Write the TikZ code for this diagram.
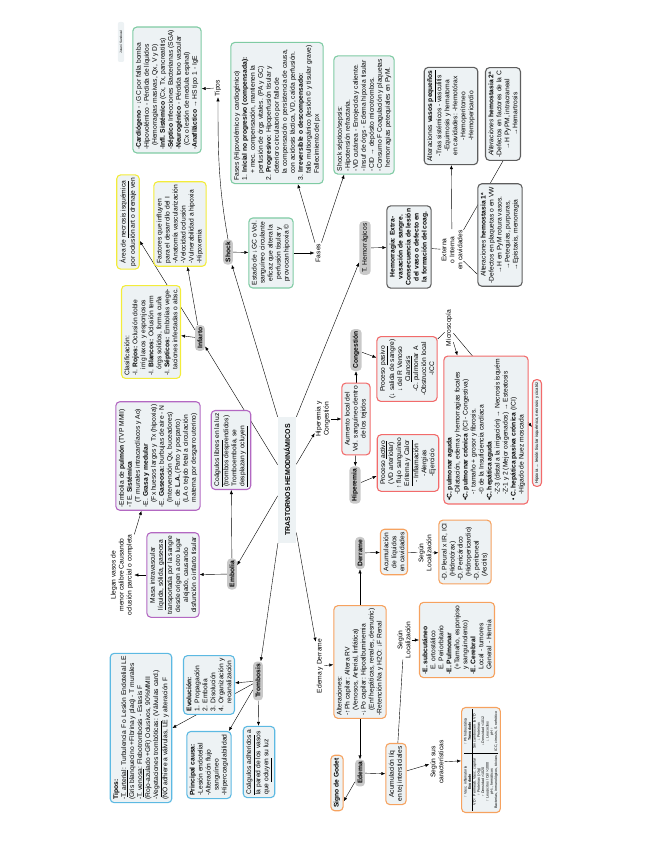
\documentclass[tikz,border=0pt]{standalone}
\usepackage{fontspec}
\setmainfont{Liberation Sans}
\usetikzlibrary{arrows.meta,backgrounds}

\definecolor{fondo}{HTML}{EDF2F4}
\definecolor{gris}{HTML}{C9C9C9}
\definecolor{verde}{HTML}{7FCBA3}
\definecolor{amarillo}{HTML}{F3EC3A}
\definecolor{morado}{HTML}{B368C2}
\definecolor{azul}{HTML}{5CB9E2}
\definecolor{naranja}{HTML}{F6A25F}
\definecolor{rojo}{HTML}{F26B6B}
\definecolor{oscuro}{HTML}{5E5E5E}

\tikzset{
  >={Latex[length=4pt,width=3.2pt]},
  letra/.style={font=\fontsize{6.7}{8}\selectfont},
  ramal/.style={rotate=90, fill=gris, rounded corners=4pt, inner sep=2.5pt, font=\bfseries\fontsize{6.7}{8}\selectfont},
  caja/.style={rotate=90, draw=#1, fill=fondo, line width=1.1pt, rounded corners=4pt, inner sep=3pt, align=left, letra},
  rotulo/.style={rotate=90, inner sep=1pt, align=center, letra},
}

\begin{document}
\begin{tikzpicture}[x=1pt, y=-1pt]
\useasboundingbox (0,0) rectangle (655,848);

\node[rotate=90, fill=fondo, inner xsep=7pt, inner ysep=6pt, font=\bfseries\fontsize{7}{8}\selectfont] (centro) at (287,480) {TRASTORNOS HEMODINÁMICOS};
\node[rotate=90, fill=fondo, rounded corners=2pt, inner sep=2pt, minimum width=40pt, font=\fontsize{3.2}{4}\selectfont] (autor) at (121,42) {Jurani Sandoval};

% ramas principales
\node[ramal] (shock) at (228,252) {Shock};
\node[ramal] (infarto) at (200,338) {Infarto};
\node[ramal] (embolia) at (232,574) {Embolia};
\node[ramal] (trombosis) at (258,681) {Trombosis};
\node[ramal] (edema) at (360,773) {Edema};
\node[ramal] (derrame) at (360,553) {Derrame};
\node[ramal] (hiperemia) at (355,485) {Hiperemia};
\node[ramal] (congestion) at (356,350) {Congestión};
\node[ramal, font=\fontsize{6.7}{8}\selectfont] (themo) at (365,248) {T. Hemorrágicos};

% rotulos
\node[rotulo] (lTipos) at (218,88) {Tipos};
\node[rotulo] (lFases) at (318,253) {Fases};
\node[rotulo] (lHipCong) at (323,419) {Hiperemia y\\Congestión};
\node[rotulo] (lEdDer) at (320,666) {Edema y Derrame};
\node[rotulo] (lLocDer) at (425,553) {Según\\Localización};
\node[rotulo] (lLocEd) at (404,640) {Según\\Localización};
\node[rotulo] (lCaract) at (437,762) {Según sus\\características};
\node[rotulo] (lExterna) at (452,250) {Externa\\o Interna\\en cavidades};
\node[rotulo] (lMicro) at (449,328) {Microscopía};
\node[rotulo] (lLlegan) at (122,575) {Llegan vasos de\\menor calibre Causando\\oclusión parcial o completa};

% shock
\node[caja=verde] (tiposShock) at (167,90) {-\textbf{Cardiógeno} - ↓GC por falla bomba\\-Hipovolémico - Pérdida de líquidos\\\hspace*{4pt}(Hemorragias masivas, Qx, V y D)\\-\textbf{Infl. Sistémico} (Cx, Tx, pancreatitis)\\-\textbf{Séptico} Infecciones Bacterianas (SGA)\\-\textbf{Neurogénico} - Pérdida tono vascular\\\hspace*{4pt}(Cx o lesión de medula espinal)\\-\textbf{Anafiláctico} → HS tipo 1 - IgE};
\node[caja=verde] (fasesShock) at (277,113) {Fases (Hipovolémico y cardiogénico)\\1. \textbf{Inicial no progresivo (compensada):}\\\hspace*{7pt}+ mec. compensación, mantienen la\\\hspace*{7pt}perfusión de órgs vitales. (PA y GC)\\2. \textbf{Progresivo:} Hipoperfusión tisular y\\\hspace*{7pt}deterioro circulatorio por fallo de\\\hspace*{7pt}la compensación o persistencia de causa,\\\hspace*{7pt}con acidosis láctica, VD, caída perfusión.\\3. \textbf{Irreversible o descompensado:}\\\hspace*{7pt}fallo multiorgánico (lesión © y tisular grave)\\\hspace*{7pt}Fallecimiento del px};
\node[caja=verde] (septico) at (364,115) {Shock séptico/sepsis:\\-Hipotensión refractaria.\\-VD cutánea - Enrojecida y caliente.\\-Insuf de órgs - Edema hipoxia tisular\\-CID → depósito microtrombos.\\-Consumo F Coagulación y plaquetas\\\hspace*{4pt}hemorragias petequiales en PyM.};
\node[caja=verde, align=center] (defShock) at (271,253) {Estado de ↓GC o Vol.\\sanguíneo circulante\\eficaz que altera la\\perfusión tisular y\\provocan hipoxia ©};

% infarto
\node[caja=amarillo, align=center] (necrosis) at (128,222) {Área de \underline{necrosis isquémica}\\por oclusión art o drenaje ven};
\node[caja=amarillo] (factores) at (180,224) {Factores que influyen\\para el desarrollo del I\\-Anatomía vascularización\\-Velocidad oclusión\\-Vulnerabilidad a hipoxia\\-Hipoxemia};
\node[caja=amarillo] (clasif) at (151,332) {Clasificación:\\-I. \textbf{Rojos:} Oclusión doble\\\hspace*{6pt}irrig laxos y esponjosos\\-I. \textbf{Blancos:} Oclusión term\\\hspace*{6pt}órgs solidos, forma cuña\\-I. \textbf{Sépticos:} Embolias vege-\\\hspace*{6pt}taciones infectadas o absc.};

% embolia
\node[caja=morado] (tiposEmb) at (158,456) {-Embolia de \textbf{pulmón} (TVP MMII)\\-TE. \textbf{Sistémica}\\\hspace*{5pt}(T murales intracardíacos y Ao)\\-E. \textbf{Grasa y medular}\\\hspace*{5pt}(Fx huesos largos y Tx (hipoxia))\\-E. \textbf{Gaseosa:} burbujas de aire - N\\\hspace*{5pt}(Intervención Qx, buceadores)\\-E. de \textbf{L.A.} (Parto y posparto)\\\hspace*{5pt}(LA o tejido fetal a circulación\\\hspace*{5pt}materna por desgarro uterino)};
\node[caja=morado] (coagLibres) at (231,450) {\underline{Coágulos libres} en la luz\\(trombos desprendidos)\\Tromboembolia, se\\\underline{desplazan y ocluyen}};
\node[caja=morado, align=center] (masa) at (173,575) {Masa intravascular\\\underline{líquida, sólida, gaseosa}\\transportada por la sangre\\desde origen a otro lugar\\alejado, causando\\disfunción o infarto tisular};

% trombosis
\node[caja=azul] (tiposTromb) at (141,728) {\textbf{Tipos:}\\-\underline{T. arterial}: Turbulencia F o Lesión Endotelial LE\\(Gris blanquecino +Fibrina y plaq) - T murales\\-\underline{T. venosa}: Flebotrombosis - Estasis F\\(Rojo-azulado +GR) Oclusivos, 90\%MMII\\-\underline{Vegetaciones trombóticas}: (Válvulas card.)\\(NO adhiere a válvulas, LE y alteración F};
\node[caja=azul] (evolucion) at (209,685) {\textbf{Evolución:}\\1. Propagación\\2. Embolia\\3. Disolución\\4. Organización y\\\hspace*{8pt}recanalización};
\node[caja=azul] (causa) at (209,765) {\textbf{Principal causa:}\\-Lesión endotelial\\-Alteración flujo\\\hspace*{5pt}sanguíneo\\-Hipercoagulabilidad};
\node[caja=azul] (coagAdh) at (259,762) {\underline{Coágulos adheridos} a\\la pared de los vasos\\que \underline{ocluyen} su luz};

% edema y derrame
\node[caja=naranja] (alteraciones) at (360,662) {Alteraciones:\\-↑Ph capilar: Altera RV\\\hspace*{5pt}(Venosos, Arterial, linfática)\\-↓Po capilar: Hipoalbuminemia\\\hspace*{5pt}(Enf hepáticas, renales, desnutric)\\-Retención Na y H2O: ↓F Renal};
\node[caja=naranja, align=center] (acumCav) at (394,552) {Acumulación\\de líquidos\\en cavidades};
\node[caja=naranja] (pleural) at (465,552) {-D. Pleural x IR, ICI\\\hspace*{4pt}(Hidrotórax)\\-D. Pericárdico\\\hspace*{4pt}(Hidropericardio)\\-D. peritoneal\\\hspace*{4pt}(Ascitis)};
\node[caja=naranja] (subcut) at (457,640) {-\textbf{E. subcutáneo}\\\hspace*{5pt}E. ortostático\\\hspace*{5pt}E. Periorbitario\\-\textbf{E. Pulmonar}\\\hspace*{5pt}(+Tamaño, esponjoso\\\hspace*{5pt}y sanguinolento)\\-\textbf{E. Cerebral}\\\hspace*{5pt}Local - tumores\\\hspace*{5pt}General - Hernia};
\node[caja=naranja, align=center] (acumInt) at (396,774) {Acumulación líq\\en tej intersticiales};
\node[caja=naranja, font=\bfseries\fontsize{6.7}{8}\selectfont] (godet) at (337,783) {Signo de Godet};
\node[caja=naranja, inner sep=2pt, font=\fontsize{3.6}{4.3}\selectfont] (tabla) at (481,760) {\setlength{\tabcolsep}{2pt}\begin{tabular}{c|c}
↑ Vasc. inflamatoria & ↑ Ph hidrostática\\
\textbf{Exudado} & \textbf{Trasudado}\\\hline
VD ↑ Permeab. Vasc. capilar & Sin cambios en la VD\\
↑ Proteínas (>3g) & ↓ Proteínas\\
↑ Densidad >1020 & ↓ Densidad <1012\\
↑ Leucocitos / Cél >1000 & ↓ Leucocitos\\
pH ↓, hemáticos & pH ↑\\
Bacterias, inmunológicos, tóxicos & ICC, cirrosis, S. nefrótico
\end{tabular}};

% hiperemia y congestion
\node[caja=rojo, align=center] (aumento) at (356,419) {Aumento local del\\Vol. sanguíneo dentro\\de los tejidos};
\node[caja=rojo, align=center] (activo) at (408,463) {Proceso \underline{activo}\\(VD arteriolar)\\↑ flujo sanguíneo\\\underline{Eritema y Calor}\\- Inflamación\\-Alergias\\-Ejercicio};
\node[caja=rojo, align=center] (pasivo) at (407,369) {Proceso \underline{pasivo}\\(↓ salida de sangre)\\↓ del R Venoso\\\underline{Cianosis}\\-C. pulmonar A\\-Obstrucción local\\-ICC};
\node[caja=rojo] (congTipos) at (486,430) {•\textbf{C. pulmonar aguda}\\\hspace*{6pt}-Dilatación, edema y hemorragias focales\\•\textbf{C. pulmonar crónica} (ICI - Congestiva)\\\hspace*{6pt}-↑ tamaño + grosor y fibrosis.\\\hspace*{6pt}-© de la Insuficiencia cardíaca\\•\textbf{C. hepática aguda}\\\hspace*{6pt}-Z-3 (distal a la irrigación) → Necrosis isquém\\\hspace*{6pt}-Z-1 y 2 (Mejor oxigenados) → Esteatosis\\• \textbf{C. hepática pasiva crónica} (ICI)\\\hspace*{6pt}-Hígado de Nuez moscada};
\node[caja=rojo, inner sep=2.5pt, font=\fontsize{4.3}{5}\selectfont] (hipoxia) at (537,433) {Hipoxia → lesión tisular isquémica, necrosis y cicatriz};

% hemorragicos
\node[caja=oscuro, align=center, font=\bfseries\fontsize{6.7}{8}\selectfont] (hemorragia) at (409,247) {Hemorragia: Extra-\\vasación de sangre.\\Consecuencia de lesión\\del vaso o defecto en\\la formación del coag.};
\node[caja=oscuro, align=center] (vasos) at (451,116) {Alteraciones \textbf{vasos \underline{pequeños}}\\-Tras sistémicos - vasculitis\\-Equimosis y hematoma\\en cavidades: -Hemotórax\\-Hemoperitoneo\\-Hemopericardio};
\node[caja=oscuro, align=center] (hemo2) at (503,114) {\textit{Alteraciones} \textbf{hemostasia 2ª}\\-Defectos en factores de la C\\→H PyPM, intracraneal\\→Hemartrosis};
\node[caja=oscuro, align=center] (hemo1) at (500,235) {Alteraciones \textbf{hemostasia 1ª}\\-Defectos en plaquetas o en VW\\→H en PyM rotura vasos.\\→Petequias, purpuras,\\→Epistaxis, menorragia};

\begin{scope}[on background layer, line width=0.5pt]
% desde el centro
\draw[->] (centro.north east) -- (shock);
\draw[->] (centro) -- (infarto);
\draw[->] (centro) -- (embolia);
\draw[->] (centro) -- (trombosis);
\draw[->] (centro) -- (lEdDer);
\draw[->] (centro) -- (lHipCong);
\draw[->] (centro.south east) -- (themo);
% shock
\draw[->] (shock) -- (defShock);
\draw[->] (defShock) -- (lFases);
\draw[->] (lFases) -- (fasesShock);
\draw[->] (lFases) -- (septico);
\draw[->] (shock.east) to[out=100,in=-90] (lTipos.west);
\draw[->] (lTipos) -- (tiposShock);
% infarto
\draw[->] (infarto) -- (necrosis);
\draw[->] (infarto) -- (factores);
\draw[->] (infarto) -- (clasif);
% embolia
\draw[->] (embolia) -- (coagLibres);
\draw[->] (embolia) -- (masa);
\draw[->] (masa) -- (lLlegan);
\draw[->] (lLlegan) -- (tiposEmb);
% trombosis
\draw[->] (trombosis) -- (evolucion);
\draw[->] (trombosis) -- (tiposTromb.south);
\draw[->] (trombosis) -- (causa);
\draw[->] (trombosis) -- (coagAdh);
% edema y derrame
\draw[->] (lEdDer) -- (alteraciones);
\draw[->] (alteraciones) -- (derrame);
\draw[->] (alteraciones) -- (edema);
\draw[->] (derrame) -- (acumCav);
\draw (acumCav) -- (lLocDer);
\draw[->] (lLocDer) -- (pleural);
\draw[->] (edema) -- (acumInt);
\draw[->] (edema) -- (godet.-160);
\draw (acumInt) -- (lLocEd);
\draw[->] (lLocEd) -- (subcut);
\draw[->] (acumInt) -- (lCaract);
\draw[->] (lCaract) -- (tabla);
% hiperemia y congestion
\draw[->] (lHipCong) -- (aumento);
\draw[->] (aumento) -- (congestion);
\draw[->] (aumento) -- (hiperemia);
\draw[->] (congestion) -- (pasivo);
\draw[->] (hiperemia) -- (activo);
\draw (pasivo) -- (lMicro);
\draw[->] (lMicro) -- (congTipos.21);
\draw[->] (lMicro) -- (hipoxia);
% hemorragicos
\draw[->] (themo) -- (hemorragia);
\draw (hemorragia) -- (lExterna);
\draw[->] (lExterna) -- (vasos);
\draw (lExterna) -- (hemo2.west);
\draw (lExterna) -- (hemo1.150);
\end{scope}
\end{tikzpicture}
\end{document}
